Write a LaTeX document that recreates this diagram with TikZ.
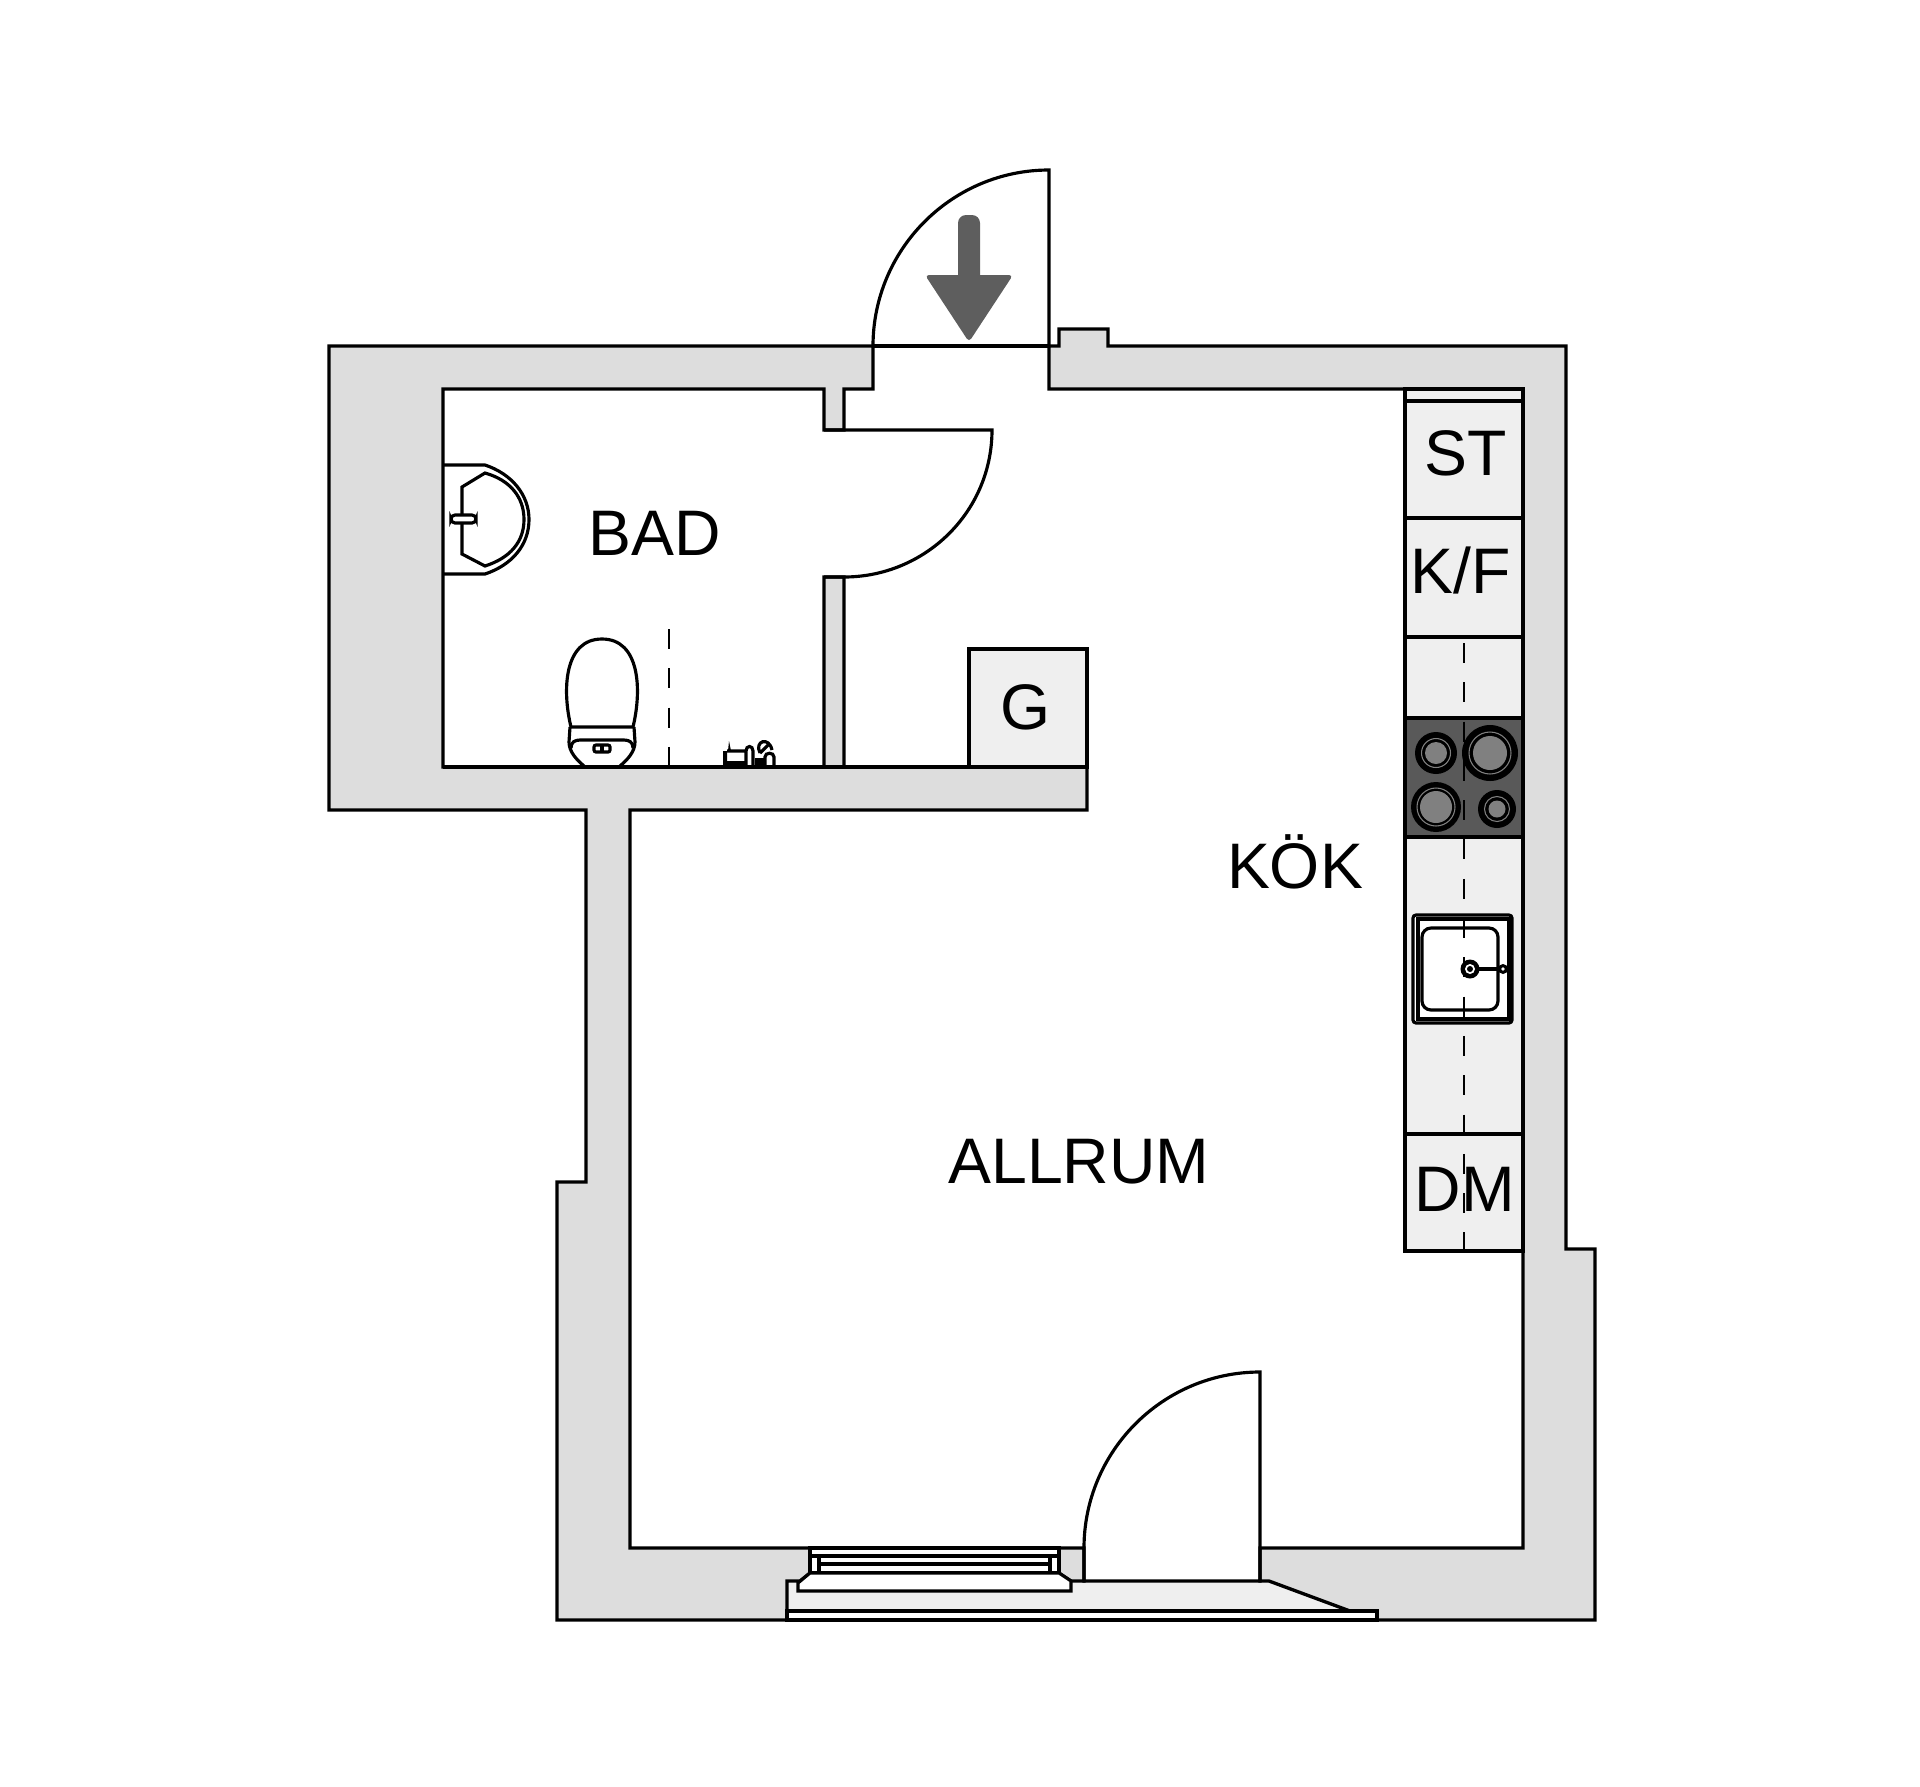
\documentclass[tikz,border=0pt]{standalone}
\usepackage{fontspec}
\setmainfont{Liberation Sans}
\usetikzlibrary{positioning}
\definecolor{wallgrey}{HTML}{DDDDDD}
\definecolor{unitgrey}{HTML}{EFEFEF}
\definecolor{hobgrey}{HTML}{595959}
\definecolor{ringgrey}{HTML}{808080}
\definecolor{arrowgrey}{HTML}{5E5E5E}
\tikzset{
    wall/.style={draw, fill=wallgrey, line width=0.95pt, line join=miter},
    plan line/.style={draw, line width=0.9pt},
    fixture/.style={draw, fill=white, line width=0.9pt},
    unit/.style={draw, fill=unitgrey, line width=0.9pt},
    centre line/.style={draw, line width=0.8pt, dash pattern=on 0.2cm off 0.1927cm},
    room/.style={anchor=base, inner sep=0pt, font=\fontsize{18.3}{20}\selectfont},
}
\begin{document}
\begin{tikzpicture}[x=0.01cm, y=-0.01cm]
        \useasboundingbox (0,0) rectangle (1920,1787);

        \path[unit, draw=none] (787,1581) -- (800,1581) -- (798,1591) -- (1071,1591) -- (1071,1581) -- (1269,1581) -- (1350,1611) -- (787,1611) -- cycle;

        \path[wall] (873,346) -- (329,346) -- (329,810) -- (586,810) -- (586,1182) -- (557,1182) -- (557,1620) -- (787,1620) -- (787,1581) -- (800,1581) -- (810,1573) -- (810,1548) -- (630,1548) -- (630,810) -- (1087,810) -- (1087,767) -- (844,767) -- (844,577) -- (824,577) -- (824,767) -- (443,767) -- (443,389) -- (824,389) -- (824,430) -- (844,430) -- (844,389) -- (873,389) -- cycle;
        \path[wall] (1049,346) -- (1059,346) -- (1059,329) -- (1108,329) -- (1108,346) -- (1566,346) -- (1566,1249) -- (1595,1249) -- (1595,1620) -- (1377,1620) -- (1377,1611) -- (1350,1611) -- (1269,1581) -- (1260,1581) -- (1260,1548) -- (1523,1548) -- (1523,389) -- (1049,389) -- cycle;
        \path[wall] (1059,1548) -- (1084,1548) -- (1084,1581) -- (1071,1581) -- (1059,1573) -- cycle;

        \path[plan line] (873,346) -- (1049,346);
        \path[plan line] (873,346) .. controls (873,249) and (952,170) .. (1049,170) -- (1049,346);
        \path[plan line] (824,430) -- (992,430) .. controls (992,512) and (925,577) .. (844,577) -- (824,577);
        \path[plan line] (1084,1548) .. controls (1084,1451) and (1163,1372) .. (1260,1372) -- (1260,1581) -- (1084,1581) -- cycle;

        \fill[arrowgrey, rounded corners=0.08cm] (958,290) -- (958,215) -- (980,215) -- (980,290) -- cycle;
        \fill[arrowgrey, rounded corners=0.04cm] (925,275) -- (1013,275) -- (969,342) -- cycle;

        \path[plan line] (787,1611) -- (787,1620) -- (1377,1620) -- (1377,1611) -- cycle;
        \path[fixture] (810,1548) rectangle (1059,1556);
        \path[fixture] (810,1556) rectangle (1059,1573);
        \path[plan line] (819,1556) -- (819,1573) (1050,1556) -- (1050,1573) (819,1564) -- (1050,1564);
        \path[fixture] (810,1573) -- (1059,1573) -- (1071,1581) -- (1071,1591) -- (798,1591) -- (798,1583) -- cycle;

        \path[unit] (1405,389) rectangle (1523,401);
        \path[unit] (1405,401) rectangle (1523,518);
        \path[unit] (1405,518) rectangle (1523,637);
        \path[unit] (1405,637) rectangle (1523,718);
        \path[unit, fill=hobgrey] (1405,718) rectangle (1523,837);
        \path[unit] (1405,837) rectangle (1523,1134);
        \path[unit] (1405,1134) rectangle (1523,1251);
        \path[unit] (969,649) rectangle (1087,767);

        \foreach \bx/\by/\br/\bring/\bcore in {1436/753/21/14.5/11, 1490/753/28/21/17, 1436/807/25/19/16, 1497/809/19/12.5/8.5} {
            \fill[black] (\bx,\by) circle [radius=\br];
            \draw[ringgrey, line width=0.3pt] (\bx,\by) circle [radius=\bring];
            \fill[ringgrey] (\bx,\by) circle [radius=\bcore];
        }

        \path[fixture, rounded corners=0.03cm] (1413,915) rectangle (1512,1023);
        \path[fixture] (1418,919) rectangle (1509,1019);
        \path[fixture, rounded corners=0.09cm] (1422,928) rectangle (1498,1010);

        \path[centre line] (1464,643) -- (1464,1251);
        \path[centre line] (669,629) -- (669,767);

        \draw[line width=1.4pt] (1470,969) -- (1503,969);
        \fill[black] (1470,969) circle [radius=9.5];
        \fill[white] (1470,969) circle [radius=5];
        \fill[black] (1470,969) circle [radius=3];
        \fill[black] (1503,969) circle [radius=5];
        \fill[white] (1503,969) circle [radius=1.8];

        \path[plan line] (443,465) -- (485,465) .. controls (512,474) and (529,495) .. (529,519.5) .. controls (529,545) and (512,565) .. (485,574) -- (443,574);
        \path[plan line] (462,487) -- (485,473) .. controls (510,480) and (524,497) .. (524,519.5) .. controls (524,542) and (510,558) .. (485,566) -- (462,554) -- cycle;
        \path[fixture, rounded corners=0.04cm] (451,515) rectangle (476,523);

        \path[plan line] (571,727) .. controls (562,690) and (564,639) .. (602,639) .. controls (640,639) and (642,690) .. (633,727) -- cycle;
        \path[plan line] (570,727) -- (569,742) .. controls (569,752) and (577,760) .. (584,766) (634,727) -- (635,742) .. controls (635,752) and (627,760) .. (620,766);
        \path[plan line] (571,748) .. controls (571,742) and (575,740) .. (580,740) -- (624,740) .. controls (629,740) and (633,742) .. (633,748);
        \path[plan line, rounded corners=0.02cm] (594,745) rectangle (610,752);
        \path[plan line] (602,745) -- (602,752);

        \fill[black] (723,751) rectangle (727,767) (727,761) rectangle (745,767) (729,741) -- (731,751) -- (728,751) -- cycle;
        \path[plan line] (727,751) -- (745,751) (746,767) -- (746,751) .. controls (746,745) and (753,745) .. (753,751) -- (753,767);
        \fill[black] (755,758) rectangle (765,767);
        \path[plan line] (760,753) .. controls (754,741) and (769,736) .. (772,750) (760,753) -- (768,745) (765,767) -- (765,757) .. controls (765,752) and (774,752) .. (774,757) -- (774,767);

        \path[plan line] (443,767) -- (1087,767);

        \node[room] (bad) at (655,555) {BAD};
        \node[room] (kok) at (1295,888) {KÖK};
        \node[room] (allrum) at (1079,1183) {ALLRUM};
        \node[room] (garderob) at (1026,729) {G};
        \node[room] (st) at (1466,475) {ST};
        \node[room] (kf) at (1461,593) {K/F};
        \node[room] (dm) at (1465,1211) {DM};
    \end{tikzpicture}
\end{document}
